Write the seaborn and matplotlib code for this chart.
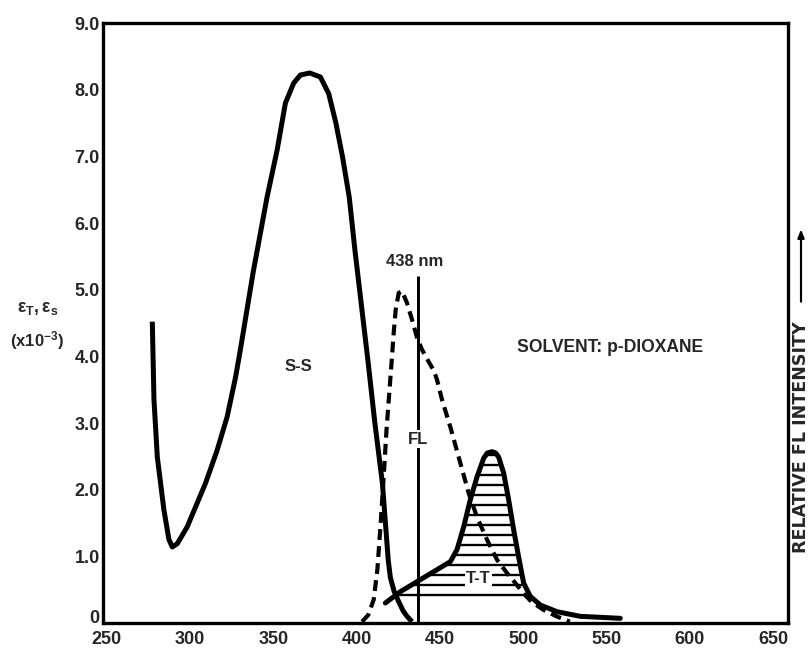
import numpy as np
import pandas as pd
import matplotlib
matplotlib.use("Agg")
import matplotlib.pyplot as plt
import matplotlib.transforms as mtransforms
import seaborn as sns
from matplotlib.patches import FancyArrowPatch

# ---- data ----
ss_nm = [277.4, 278.4, 280.4, 284.4, 287.4, 289.4, 292.4, 298.3, 309.4, 316.3, 322.3, 327.4,
         330.4, 338.0, 346.3, 352.3, 357.3, 362.3, 366.3, 371.9, 378.3, 383.3, 387.6, 391.6,
         395.6, 399.0, 403.0, 407.0, 411.0, 413.5, 415.5, 417.5, 419.0, 420.3, 422.5, 425.3,
         428.0, 430.3, 433.3]
ss_eps = [4.52, 3.35, 2.49, 1.69, 1.25, 1.14, 1.19, 1.44, 2.10, 2.59, 3.09, 3.69,
          4.12, 5.27, 6.39, 7.09, 7.80, 8.10, 8.22, 8.25, 8.19, 7.94, 7.50, 6.99,
          6.39, 5.60, 4.75, 3.90, 3.00, 2.50, 2.10, 1.45, 0.95, 0.68, 0.48, 0.32,
          0.18, 0.10, 0.02]

fl_nm = [403.3, 407.0, 410.3, 412.5, 414.5, 416.3, 418.0, 419.5, 421.0, 422.3, 423.5, 425.3,
         427.3, 430.3, 433.3, 436.3, 439.3, 443.3, 446.5, 448.3, 451.3, 456.3, 462.3, 467.3,
         472.3, 478.3, 484.3, 490.3, 495.3, 500.0, 505.0, 512.0, 520.0, 528.0]
fl_int = [0.02, 0.12, 0.35, 0.80, 1.50, 2.20, 2.90, 3.40, 3.90, 4.35, 4.70, 4.95,
          4.98, 4.80, 4.55, 4.28, 4.10, 3.92, 3.78, 3.65, 3.35, 2.94, 2.40, 1.95,
          1.59, 1.25, 0.95, 0.75, 0.60, 0.45, 0.32, 0.20, 0.10, 0.02]

tt_nm = [417.3, 426.3, 436.3, 446.3, 456.3, 460.3, 464.3, 468.3, 472.3, 476.3, 478.5, 481.3,
         483.5, 485.3, 488.3, 491.3, 494.3, 497.3, 500.3, 504.3, 510.3, 520.3, 534.3, 550.3, 558.3]
tt_eps = [0.30, 0.47, 0.62, 0.77, 0.92, 1.10, 1.44, 1.85, 2.19, 2.47, 2.55, 2.57,
          2.55, 2.49, 2.25, 1.85, 1.40, 0.99, 0.60, 0.40, 0.27, 0.17, 0.10, 0.08, 0.07]
tt_base = 0.30

fl_line_nm = 437.0
fl_line_top = 5.2

x_ticks = [250, 300, 350, 400, 450, 500, 550, 600, 650]
y_ticks = [0, 1, 2, 3, 4, 5, 6, 7, 8, 9]
y_tick_labels = ["0", "1.0", "2.0", "3.0", "4.0", "5.0", "6.0", "7.0", "8.0", "9.0"]

# ---- style ----
sns.set_style("white")
plt.rcParams["font.family"] = ["Liberation Sans", "DejaVu Sans"]
plt.rcParams["font.weight"] = "bold"
plt.rcParams["hatch.linewidth"] = 1.4
plt.rcParams["hatch.color"] = "black"
plt.rcParams["mathtext.default"] = "regular"

W, H, DPI = 810, 649, 120
fig = plt.figure(figsize=(W / DPI, H / DPI), dpi=DPI)
ax = fig.add_axes([103 / W, 1 - 623 / H, 685 / W, 600 / H])

ss = pd.DataFrame({"nm": ss_nm, "eps": ss_eps})
fl = pd.DataFrame({"nm": fl_nm, "val": fl_int})
tt = pd.DataFrame({"nm": tt_nm, "eps": tt_eps})

# T-T hatched area
tt_x = np.array(tt_nm)
tt_y = np.array(tt_eps)
ax.fill_between(tt_x, tt_base, tt_y, where=tt_y >= tt_base, interpolate=True,
                facecolor="none", edgecolor="black", hatch="--", linewidth=0, zorder=1)

sns.lineplot(data=ss, x="nm", y="eps", ax=ax, color="black", linewidth=3.0,
             estimator=None, sort=False, solid_joinstyle="round", solid_capstyle="butt", zorder=3)
sns.lineplot(data=fl, x="nm", y="val", ax=ax, color="black", linewidth=2.5,
             estimator=None, sort=False, linestyle=(0, (2.6, 1.5)), zorder=3)
sns.lineplot(data=tt, x="nm", y="eps", ax=ax, color="black", linewidth=3.0,
             estimator=None, sort=False, solid_joinstyle="round", solid_capstyle="round", zorder=3)

ax.vlines(fl_line_nm, 0, fl_line_top, color="black", linewidth=1.8, zorder=2)

# ---- axes ----
ax.set_xlim(247.8, 659.0)
ax.set_ylim(0, 9.0)
ax.set_xticks(x_ticks)
ax.set_xticklabels([str(v) for v in x_ticks])
ax.set_yticks(y_ticks)
ax.set_yticklabels(y_tick_labels)
ax.set_xlabel("")
ax.set_ylabel("")
ax.tick_params(direction="in", length=5, width=1.3, labelsize=10.8,
               top=False, right=False)
ax.tick_params(axis="x", pad=4.5)
ax.tick_params(axis="y", pad=2)
for lab in ax.get_xticklabels() + ax.get_yticklabels():
    lab.set_fontweight("bold")
# lift the "0" label a little, as in the reference
zero_lab = ax.get_yticklabels()[0]
zero_lab.set_transform(zero_lab.get_transform() +
                       mtransforms.ScaledTranslation(0, 4 / 72, fig.dpi_scale_trans))
for sp in ax.spines.values():
    sp.set_visible(True)
    sp.set_linewidth(2.0)
    sp.set_color("black")

# ---- annotations ----
ax.text(365, 3.85, "S-S", ha="center", va="center", fontsize=10, fontweight="bold")
ax.text(435.1, 5.42, "438 nm", ha="center", va="center", fontsize=10, fontweight="bold")
ax.text(fl_line_nm, 2.76, "FL", ha="center", va="center", fontsize=10, fontweight="bold",
        bbox=dict(facecolor="white", edgecolor="none", pad=1.0), zorder=4)
ax.text(473, 0.67, "T-T", ha="center", va="center", fontsize=10, fontweight="bold",
        bbox=dict(facecolor="white", edgecolor="none", pad=0.8), zorder=4)
ax.text(496.3, 4.14, "SOLVENT: p-DIOXANE", ha="left", va="center", fontsize=10.5,
        fontweight="bold")

fig.text(38 / W, 1 - 308 / H, r"$\varepsilon_{T}, \varepsilon_{s}$", ha="center", va="center",
         fontsize=10.5, fontweight="bold")
fig.text(37 / W, 1 - 341 / H, r"(x10$^{-3}$)", ha="center", va="center",
         fontsize=10, fontweight="bold")

fig.text(801 / W, 1 - 437 / H, "RELATIVE FL INTENSITY", rotation=90, ha="center",
         va="center", fontsize=10.5, fontweight="bold", family=["DejaVu Sans"])
arrow = FancyArrowPatch((801 / W, 1 - 305 / H), (801 / W, 1 - 226 / H),
                        transform=fig.transFigure, arrowstyle="-|>,head_length=4,head_width=1.6",
                        color="black", linewidth=1.3, mutation_scale=1)
fig.add_artist(arrow)

fig.savefig("out.png", dpi=DPI)
